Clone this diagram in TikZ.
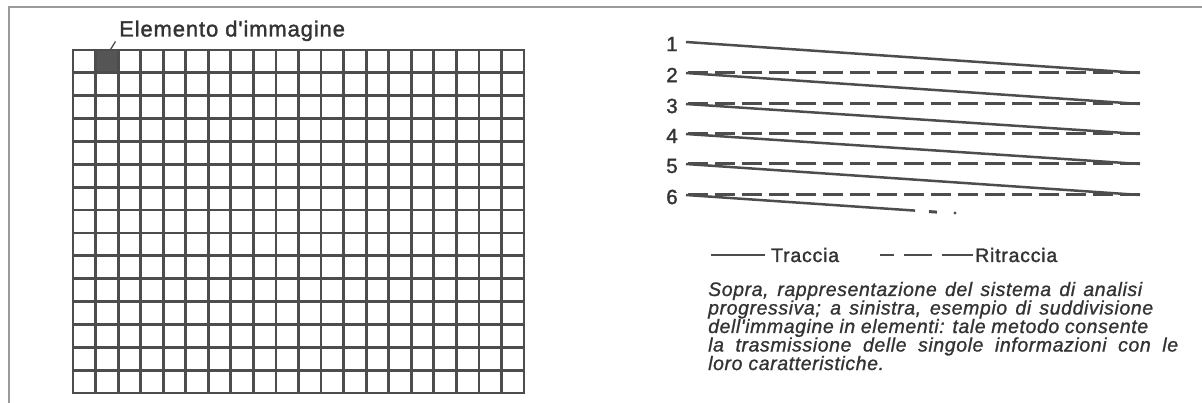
\documentclass[tikz,border=0pt]{standalone}
\usepackage{fontspec}
\setmainfont{Liberation Sans}
\newfontfamily\lblfont[LetterSpace=4,FakeBold=1.5]{Liberation Sans}
\newfontfamily\capfont[LetterSpace=3,FakeBold=1.0]{Liberation Sans}
\definecolor{ink}{HTML}{4D4D4D}
\definecolor{txt}{HTML}{333333}
\definecolor{framec}{HTML}{9A9A9A}
\definecolor{cellc}{HTML}{555555}
\begin{document}
\begin{tikzpicture}[x=1pt,y=-1pt,
  frameline/.style={draw=framec,line width=1.6pt},
  gridline/.style={draw=ink,line width=2.8pt,line cap=rect},
  trace/.style={draw=ink,line width=2.5pt},
  retrace/.style={draw=ink,line width=3pt,dash pattern=on 20pt off 7pt},
  leader/.style={draw=ink,line width=1.3pt},
  numlbl/.style={font=\lblfont\fontsize{20.5}{21}\selectfont,text=txt,inner sep=0pt},
  leglbl/.style={font=\lblfont\fontsize{19.5}{20}\selectfont,text=txt,inner sep=0pt,anchor=base west},
  caplbl/.style={font=\capfont\itshape\fontsize{19.5}{20}\selectfont,text=txt,inner sep=0pt,anchor=base west}]
\useasboundingbox (0,0) rectangle (1202,403);
% frame
\draw[frameline] (9,403) -- (9,7) -- (1202,7);
% picture element
\fill[cellc] (95.55,50) rectangle (118.1,72.87);
% grid 20 x 15
\foreach \i in {0,...,20}
  \draw[gridline] ({73+\i*22.55},50) -- ({73+\i*22.55},393);
\foreach \j in {0,...,15}
  \draw[gridline] (73,{50+\j*22.867}) -- (524,{50+\j*22.867});
% label
\node[anchor=base west,font=\lblfont\fontsize{22}{24}\selectfont,text=txt,inner sep=0pt] (lab) at (119,36.5) {Elemento d'immagine};
\coordinate (leadA) at (115.5,41.5);
\coordinate (leadB) at (110.5,49.5);
\draw[leader] (leadA) -- (leadB);
% scanning diagram
\foreach \k/\y in {1/42,2/73,3/104,4/134,5/164,6/195}{
  \coordinate (L\k) at (686,\y);
  \coordinate (R\k) at (1140,\y);
  \node[numlbl] (n\k) at (672,\y+2) {\k};
}
\foreach \k/\m in {1/2,2/3,3/4,4/5,5/6}
  \draw[trace] (L\k) -- (R\m);
\foreach \k in {2,...,6}
  \draw[retrace] (R\k) -- (L\k);
\coordinate (E6) at (915,210.6);
\draw[trace] (L6) -- (E6);
\coordinate (D1) at (929,211.6);
\coordinate (D2) at (937,212.1);
\draw[trace,line width=3pt] (D1) -- (D2);
\fill[ink] (955,213) circle (1.6pt);
% legend
\coordinate (ls) at (711,255);
\coordinate (le) at (765,255);
\draw[trace,line width=2.2pt] (ls) -- (le);
\node[leglbl] (tr) at (771,262) {Traccia};
\coordinate (ds) at (880,255);
\coordinate (de) at (973,255);
\draw[draw=ink,line width=2.6pt,dash pattern=on 14pt off 10pt on 28pt off 10pt on 40pt] (ds) -- (de);
\node[leglbl] (rt) at (975,262) {Ritraccia};
% caption
\node[caplbl] (c1) at (708,296) {\makebox[434pt][s]{Sopra, rappresentazione del sistema di analisi}};
\node[caplbl] (c2) at (708,314.5) {\makebox[445pt][s]{progressiva; a sinistra, esempio di suddivisione}};
\node[caplbl] (c3) at (708,333) {\makebox[440pt][s]{dell'immagine in elementi: tale metodo consente}};
\node[caplbl] (c4) at (708,351.5) {\makebox[470pt][s]{la trasmissione delle singole informazioni con le}};
\node[caplbl] (c5) at (708,370) {loro caratteristiche.};
\end{tikzpicture}
\end{document}
